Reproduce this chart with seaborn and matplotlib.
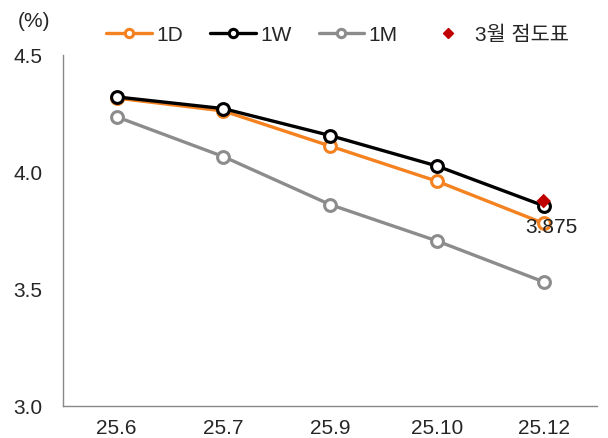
import numpy as np
import pandas as pd
import matplotlib
matplotlib.use('Agg')
import matplotlib.pyplot as plt
import seaborn as sns
from matplotlib.lines import Line2D

months = ['25.6', '25.7', '25.9', '25.10', '25.12']
d1 = [4.315, 4.26, 4.11, 3.96, 3.78]
w1 = [4.32, 4.27, 4.155, 4.025, 3.855]
m1 = [4.235, 4.065, 3.86, 3.705, 3.53]
dot_month = '25.12'
dot_val = 3.875

sns.set_style('white')
plt.rcParams['font.family'] = ['Liberation Sans', 'Noto Sans CJK KR', 'DejaVu Sans']
fs = 15

df = pd.DataFrame({'pos': np.arange(len(months)), '1D': d1, '1W': w1, '1M': m1})

fig = plt.figure(figsize=(6.08, 4.39), dpi=100)
ax = fig.add_axes([0.104, 0.073, 0.878, 0.80])

colors = {'1D': '#f58220', '1W': '#000000', '1M': '#8c8c8c'}
for name in ['1M', '1D', '1W']:
    sns.lineplot(data=df, x='pos', y=name, ax=ax, color=colors[name], lw=2.4,
                 marker='o', markersize=8.5, markerfacecolor='white',
                 markeredgecolor=colors[name], markeredgewidth=2.2)

dpos = months.index(dot_month)
sns.scatterplot(x=[dpos], y=[dot_val], ax=ax, marker='D', s=55, color='#c00000',
                edgecolor='none', zorder=5)
ax.text(dpos + 0.075, dot_val - 0.11, f'{dot_val:.3f}', ha='center', va='center',
        fontsize=fs, color='#222222')

ax.set_xlim(-0.5, len(months) - 0.5)
ax.set_ylim(3.0, 4.5)
ax.set_yticks([3.0, 3.5, 4.0, 4.5])
ax.set_yticklabels(['3.0', '3.5', '4.0', '4.5'])
ax.set_xticks(np.arange(len(months)))
ax.set_xticklabels(months)
ax.set_xticks(np.arange(len(months) + 1) - 0.5, minor=True)
ax.tick_params(axis='x', which='major', length=0, pad=9, labelsize=fs)
ax.tick_params(axis='x', which='minor', direction='in', length=4, color='#888888')
ax.tick_params(axis='y', which='major', direction='in', length=4, color='#888888',
               pad=15, labelsize=fs)
ax.set_xlabel('')
ax.set_ylabel('')
for s in ['top', 'right']:
    ax.spines[s].set_visible(False)
for s in ['left', 'bottom']:
    ax.spines[s].set_color('#888888')
    ax.spines[s].set_linewidth(1)

fig.text(0.03, 0.952, '(%)', fontsize=fs, ha='left', va='center')

handles = [Line2D([], [], color=colors[n], lw=2.4, marker='o', markersize=6,
                  markerfacecolor='white', markeredgecolor=colors[n], markeredgewidth=2.2)
           for n in ['1D', '1W', '1M']]
handles.append(Line2D([], [], color='#c00000', lw=0, marker='D', markersize=5))
fig.legend(handles, ['1D', '1W', '1M', '3월 점도표'], loc='center', ncol=4,
           bbox_to_anchor=(0.555, 0.918), frameon=False, fontsize=fs,
           handlelength=2.2, columnspacing=1.3, handletextpad=0.2)

plt.savefig('out.png', dpi=100)
plt.close()
